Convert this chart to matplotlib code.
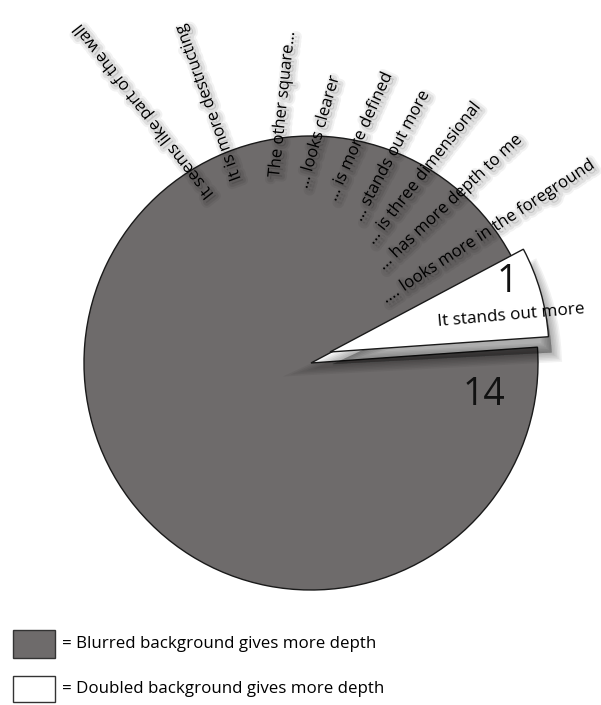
import numpy as np
import matplotlib.pyplot as plt
import matplotlib.patheffects as pe
from matplotlib.patches import Wedge, Rectangle

plt.rcParams['font.family'] = ['Open Sans', 'DejaVu Sans']

# ---------------- data ----------------
counts = [1, 14]
count_labels = ['1', '14']
white_reason = 'It stands out more'
grey_reasons = [
    'It seems like part of the wall',
    'It is more destructing',
    'The other square...',
    '... looks clearer',
    '... is more defined',
    '... stands out more',
    '... is three dimensional',
    '... has more depth to me',
    '.... looks more in the foreground',
]
legend_labels = ['= Blurred background gives more depth',
                 '= Doubled background gives more depth']

# ---------------- layout (pixel space, y up) ----------------
W, H = 601, 705
CX, CY, R = 311, H - 363, 227
GREY = '#6e6b6b'
# start of each reason label: (angle from pie centre, distance) and text rotation
reason_pos = [(121, 194), (112, 197), (101, 189), (92.6, 175), (82.7, 164),
              (72, 150), (64, 134), (54, 118), (41, 96)]
reason_rot = [128, 110, 84, 74, 66, 62, 52, 43, 33]

fig = plt.figure(figsize=(W / 100, H / 100), dpi=100)
ax = fig.add_axes([0, 0, 1, 1])

wedges, _ = ax.pie(counts, colors=['white', GREY], startangle=4,
                   counterclock=True, center=(CX, CY), radius=R,
                   wedgeprops=dict(edgecolor='#1a1a1a', linewidth=1.0))
ax.set_xlim(0, W)
ax.set_ylim(0, H)
ax.set_aspect('equal')
ax.axis('off')

white = wedges[0]
white.set_center((CX + 19, CY + 11))
white.set_radius(R - 8)
white.set_zorder(5)
wedges[1].set_zorder(1)

# soft shadow under the pulled-out slice
for i in range(7):
    sh = Wedge((CX + 19 + 3, CY + 11 - 12), R - 8, white.theta1 - 1, white.theta2 - 3,
               facecolor='black', edgecolor='black', linewidth=1 + i * 2.2,
               alpha=0.05, zorder=3)
    ax.add_patch(sh)

shadow = [pe.Stroke(linewidth=7, foreground='black', alpha=0.05, offset=(2, -2)),
          pe.Stroke(linewidth=4, foreground='black', alpha=0.07, offset=(2, -2)),
          pe.Normal()]

for txt, (ang, dist), rot in zip(grey_reasons, reason_pos, reason_rot):
    x = CX + dist * np.cos(np.radians(ang))
    y = CY + dist * np.sin(np.radians(ang))
    ax.text(x, y, txt, rotation=rot, rotation_mode='anchor', ha='left',
            va='center', fontsize=12, color='black', path_effects=shadow, zorder=6)

ax.text(438, H - 322, white_reason, rotation=5, rotation_mode='anchor',
        ha='left', va='center', fontsize=12.3, color='black', zorder=7)

ax.text(507, H - 282, count_labels[0], ha='center', va='center',
        fontsize=27, color='#111111', zorder=7)
ax.text(484, H - 395, count_labels[1], ha='center', va='center',
        fontsize=27, color='#111111', zorder=7)

# legend
box_y = [H - 658, H - 702]
box_h = [28, 26]
for lab, col, by, bh in zip(legend_labels, [GREY, 'white'], box_y, box_h):
    ax.add_patch(Rectangle((13, by), 42, bh, facecolor=col,
                           edgecolor='#333333', linewidth=1.0))
    ax.text(62, by + bh / 2, lab, ha='left', va='center', fontsize=12.2,
            color='black')

fig.savefig('out.png', dpi=100)
